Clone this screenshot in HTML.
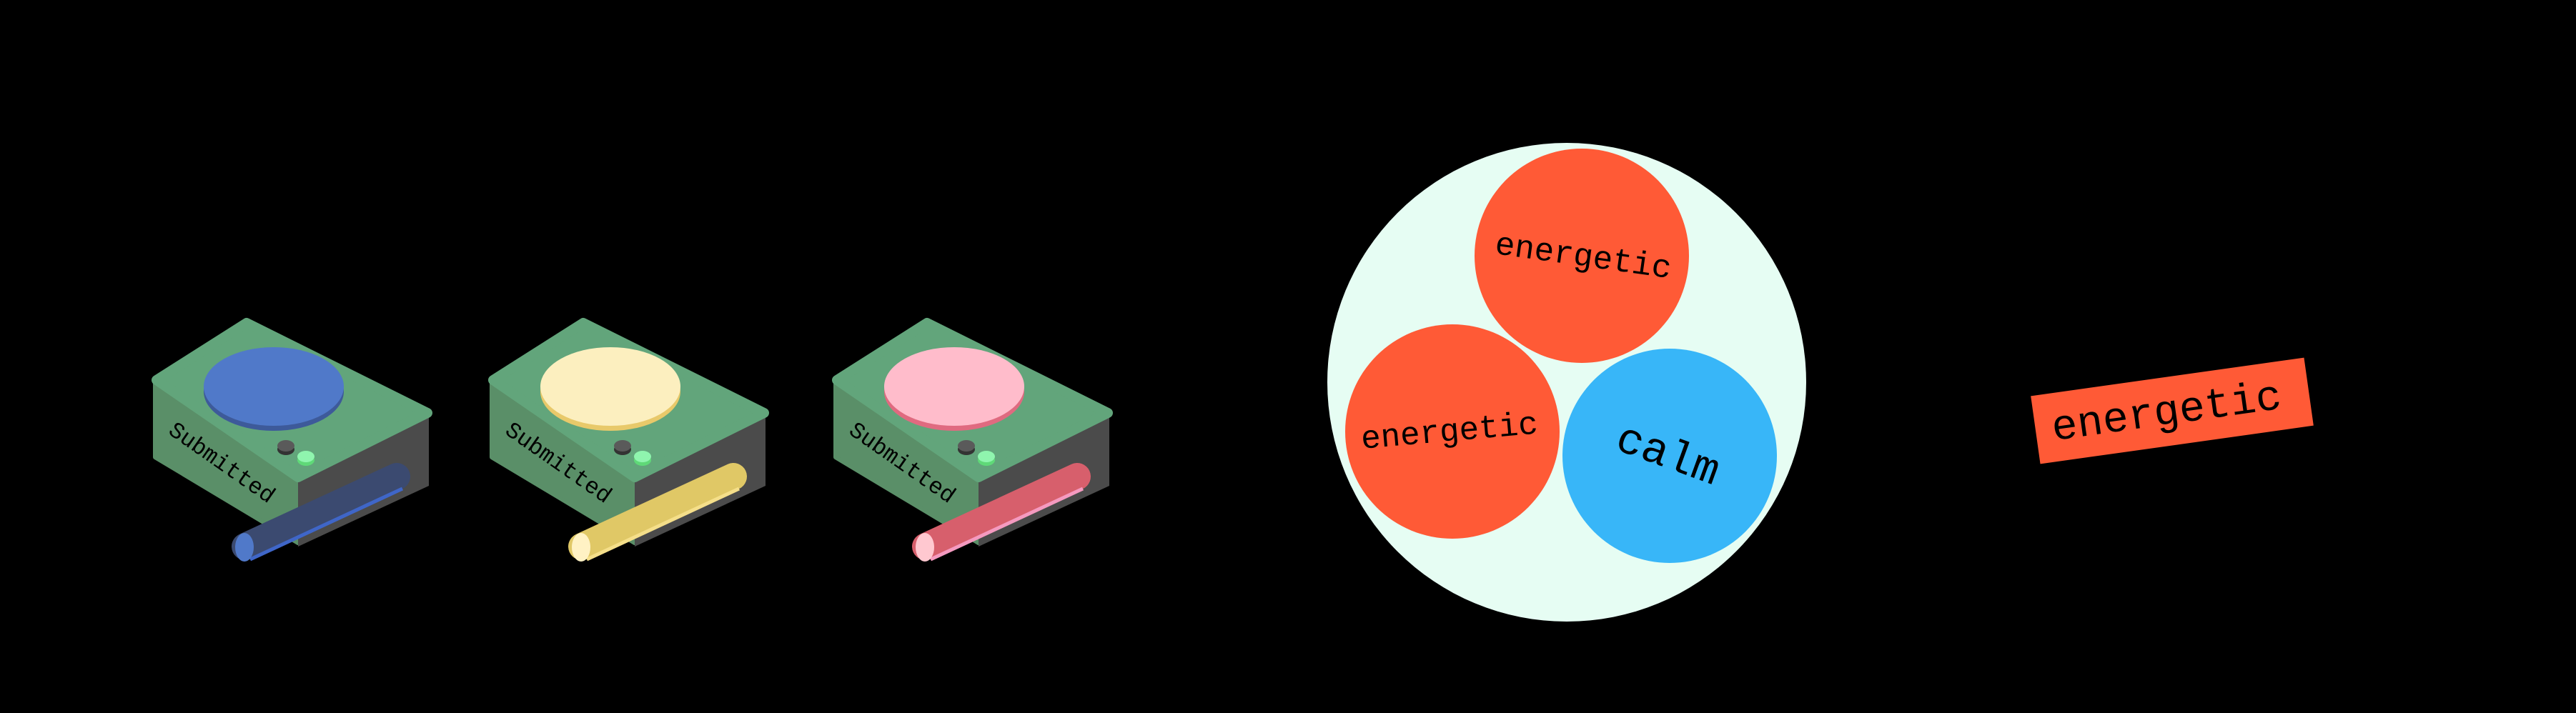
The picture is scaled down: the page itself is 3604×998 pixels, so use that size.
<!DOCTYPE html>
<html><head><style>html,body{margin:0;padding:0;background:#000;}svg{display:block}</style></head>
<body>
<svg width="3604" height="998" viewBox="0 0 3604 998" xmlns="http://www.w3.org/2000/svg">
<rect width="3604" height="998" fill="#000"/>
<defs>
<g id="box">
  <polygon points="217,532 417,668 417,760 217,640" fill="#5a8f68" stroke="#5a8f68" stroke-width="6" stroke-linejoin="round"/>
  <polygon points="417,668 600,580 600,680 417,765" fill="#4b4b4b"/>
  <polygon points="345,452 598,578 417,668 219,532" fill="#62a57b" stroke="#62a57b" stroke-width="14" stroke-linejoin="round"/>
  <text x="0" y="0" transform="translate(234,606) rotate(35)" font-family="Liberation Mono, monospace" font-size="32" fill="#000">Submitted</text>
  <ellipse cx="400" cy="629" rx="12" ry="8" fill="#333"/>
  <ellipse cx="400" cy="624" rx="12" ry="8" fill="#5a5a5a"/>
  <ellipse cx="428" cy="644" rx="12" ry="8" fill="#5fd978"/>
  <ellipse cx="428" cy="639" rx="12" ry="8" fill="#8ff5ae"/>
</g>
</defs>

<g>
  <use href="#box"/>
  <ellipse cx="383" cy="548" rx="98" ry="55" fill="#3d5a9a"/>
  <ellipse cx="383" cy="541" rx="98" ry="55" fill="#5079c9"/>
  <line x1="343" y1="765" x2="555" y2="667" stroke="#3b4a70" stroke-width="38" stroke-linecap="round"/>
  <line x1="350" y1="783" x2="563" y2="684" stroke="#3f66c8" stroke-width="5"/>
  <ellipse cx="342" cy="766" rx="13" ry="20" fill="#5079c9"/>
</g>
<g transform="translate(471,0)">
  <use href="#box"/>
  <ellipse cx="383" cy="548" rx="98" ry="55" fill="#e8c96a"/>
  <ellipse cx="383" cy="541" rx="98" ry="55" fill="#fcefbf"/>
  <line x1="343" y1="765" x2="555" y2="667" stroke="#e0c866" stroke-width="38" stroke-linecap="round"/>
  <line x1="350" y1="783" x2="563" y2="684" stroke="#f5df8a" stroke-width="5"/>
  <ellipse cx="342" cy="766" rx="13" ry="20" fill="#fff2c4"/>
</g>
<g transform="translate(952,0)">
  <use href="#box"/>
  <ellipse cx="383" cy="548" rx="98" ry="55" fill="#e06a80"/>
  <ellipse cx="383" cy="541" rx="98" ry="55" fill="#ffbccb"/>
  <line x1="343" y1="765" x2="555" y2="667" stroke="#d75f6c" stroke-width="38" stroke-linecap="round"/>
  <line x1="350" y1="783" x2="563" y2="684" stroke="#f59ac0" stroke-width="5"/>
  <ellipse cx="342" cy="766" rx="13" ry="20" fill="#ffc8d0"/>
</g>

<circle cx="2192" cy="535" r="335" fill="#e6fdf3"/>
<circle cx="2213" cy="358" r="150" fill="#ff5a36"/>
<circle cx="2032" cy="604" r="150" fill="#ff5a36"/>
<circle cx="2336" cy="638" r="150" fill="#38b6f8"/>
<text transform="translate(2215,360) rotate(8)" text-anchor="middle" dominant-baseline="middle" font-family="Liberation Mono, monospace" font-size="46" fill="#000">energetic</text>
<text transform="translate(2028,605) rotate(-5)" text-anchor="middle" dominant-baseline="middle" font-family="Liberation Mono, monospace" font-size="46" fill="#000">energetic</text>
<text transform="translate(2333,638) rotate(20)" text-anchor="middle" dominant-baseline="middle" font-family="Liberation Mono, monospace" font-size="62" fill="#000">calm</text>

<g transform="translate(3039,575) rotate(-8)">
  <rect x="-193" y="-48" width="386" height="96" fill="#ff5a36"/>
  <text x="-8" y="2" text-anchor="middle" dominant-baseline="middle" font-family="Liberation Mono, monospace" font-size="60" fill="#000">energetic</text>
</g>
</svg>
</body></html>
